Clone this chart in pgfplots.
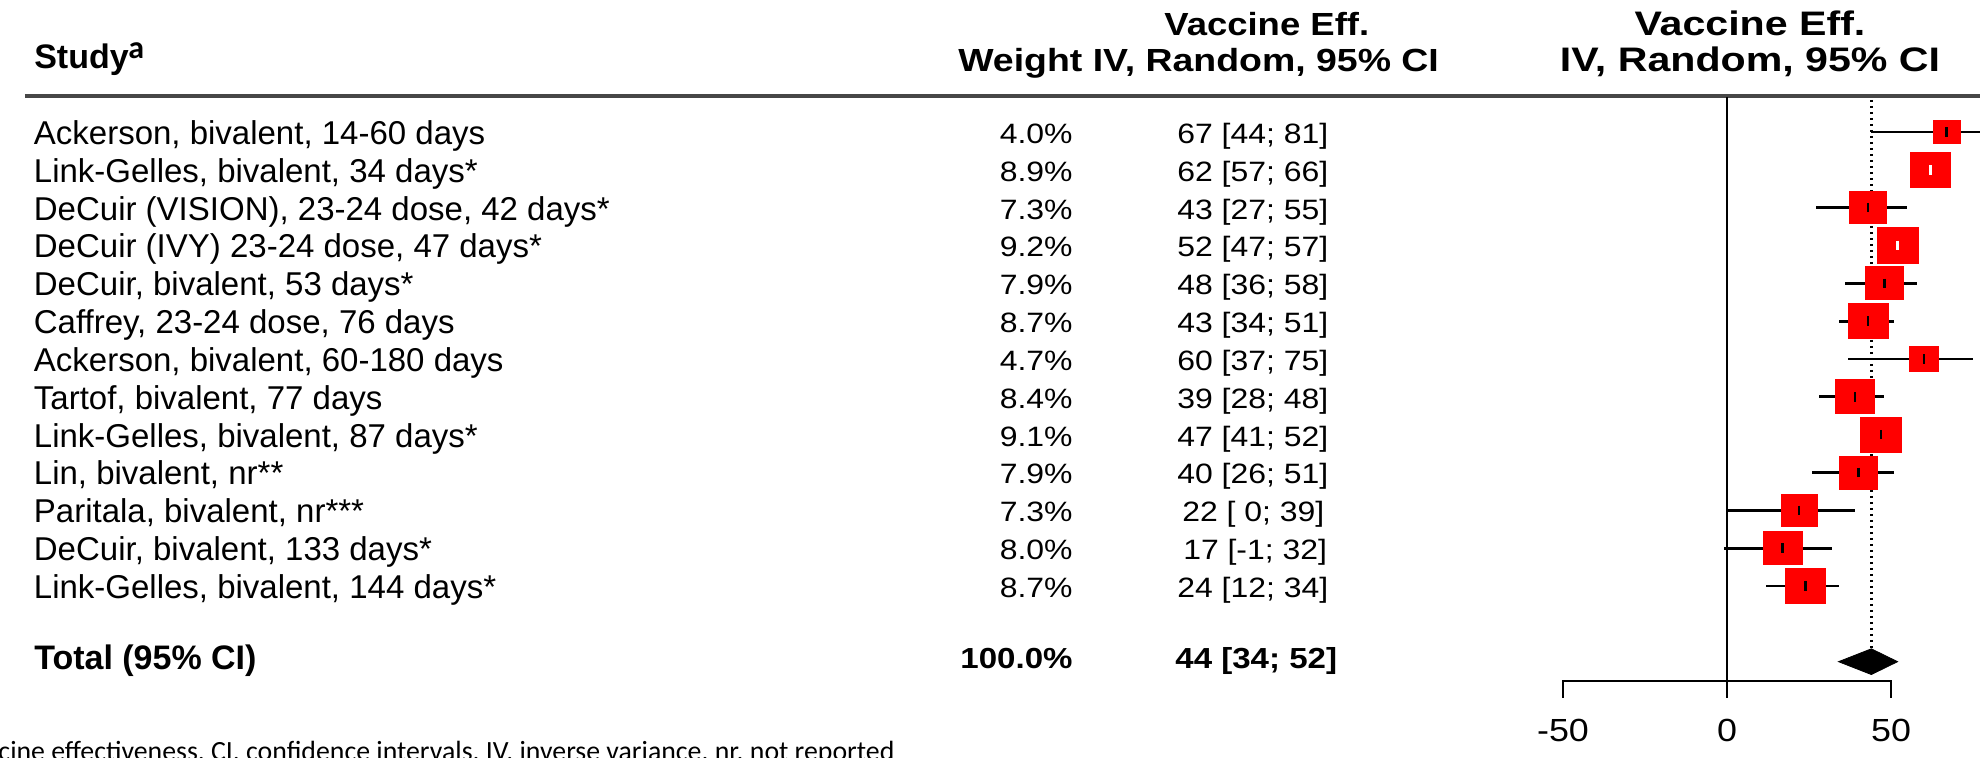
\documentclass[border=0pt]{standalone}
\usepackage{pgfplots}
\pgfplotsset{compat=1.18}
\usepackage{pgfplotstable}
\usepackage{graphicx}
\usepackage{fontspec}
\setmainfont{Liberation Sans}
\newfontfamily\calfont{Carlito}

\newcommand{\lab}{\fontsize{16.5}{19}\selectfont}
\newcommand{\nm}[1]{\scalebox{1.14}[1]{\fontsize{14}{16}\selectfont #1}}
\newcommand{\nb}[1]{\scalebox{1.14}[1]{\bfseries\fontsize{14.5}{16}\selectfont #1}}
\newcommand{\hb}[1]{\scalebox{1.14}[1]{\bfseries\fontsize{16}{18}\selectfont #1}}
\newcommand{\hbw}[1]{\scalebox{1.17}[1]{\bfseries\fontsize{16}{18}\selectfont #1}}
\newcommand{\hr}[1]{\scalebox{1.21}[1]{\bfseries\fontsize{17}{19}\selectfont #1}}
\newcommand{\nar}[1]{{\bfseries\fontsize{17}{19}\selectfont #1}}
\newcommand{\tk}[1]{\scalebox{1.12}[1]{\fontsize{16}{18}\selectfont #1}}

% row, vaccine effectiveness, lower, upper, weight (%)
\pgfplotstableread{
row ve lo hi w
1  67 44 81 4.0
2  62 57 66 8.9
3  43 27 55 7.3
4  52 47 57 9.2
5  48 36 58 7.9
6  43 34 51 8.7
7  60 37 75 4.7
8  39 28 48 8.4
9  47 41 52 9.1
10 40 26 51 7.9
11 22 0  39 7.3
12 17 -1 32 8.0
13 24 12 34 8.7
}\studies

\pgfplotstableread{
row ve lo hi
1  67 44 81
3  43 27 55
5  48 36 58
6  43 34 51
7  60 37 75
8  39 28 48
9  47 41 52
10 40 26 51
11 22 0  39
12 17 -1 32
13 24 12 34
}\ciblack

\pgfplotstableread{
row ve lo hi
2  62 57 66
4  52 47 57
}\ciwhite

\begin{document}
\begin{tikzpicture}
\begin{axis}[
  scale only axis,
  width=990pt, height=378.5pt,
  xmin=-526.52, xmax=77.13,
  ymin=-2.489, ymax=17.52,
  y dir=reverse,
  hide axis,
  clip=true,
]
% header separator
\addplot[line width=2.4pt, color=black!72] coordinates {(-518.9,0.048) (77.2,0.048)};
% zero line
\addplot[line width=1.1pt, black] coordinates {(0,0.07) (0,15.96)};
% pooled estimate dotted line
\addplot[line width=1.2pt, black, dash pattern=on 1.2pt off 1.8pt] coordinates {(44,0.15) (44,14.64)};
% x axis
\addplot[line width=1.1pt, black] coordinates {(-50,15.96) (-50,15.51) (50,15.51) (50,15.96)};

% squares
\addplot[scatter, only marks, mark=square*,
  scatter/use mapped color={draw=red, fill=red},
  visualization depends on={2.94*sqrt(\thisrow{w}) \as \msz},
  scatter/@pre marker code/.append style={/tikz/mark size=\msz pt, /tikz/xscale=1.15},
  point meta=\thisrow{w}]
  table[x=ve, y=row] {\studies};

% confidence intervals
\addplot[only marks, mark=|, mark size=2.4pt, mark options={line width=1.3pt, black},
  error bars/.cd, x dir=both, x explicit, error mark=none,
  error bar style={line width=1.4pt, black}]
  table[x=ve, y=row, x error minus expr=\thisrow{ve}-\thisrow{lo},
        x error plus expr=\thisrow{hi}-\thisrow{ve}] {\ciblack};
\addplot[only marks, mark=|, mark size=2.4pt, mark options={line width=1.3pt, white},
  error bars/.cd, x dir=both, x explicit, error mark=none,
  error bar style={line width=1.4pt, white}]
  table[x=ve, y=row, x error minus expr=\thisrow{ve}-\thisrow{lo},
        x error plus expr=\thisrow{hi}-\thisrow{ve}] {\ciwhite};

% pooled diamond
\addplot[fill=black, draw=black] coordinates {(34,15) (44,14.66) (52,15) (44,15.34)} -- cycle;

% headers
\node[anchor=base west, inner sep=0] at (axis cs:-516.2,-0.68) {\nar{Study}};
\node[anchor=base west, inner sep=0] at (axis cs:-487.5,-0.95) {\calfont\bfseries\fontsize{16}{18}\selectfont a};
\node[anchor=base, inner sep=0] at (axis cs:-140.3,-1.564) {\hb{Vaccine Eff.}};
\node[anchor=base, inner sep=0] at (axis cs:-161.1,-0.612) {\hbw{Weight IV, Random, 95\% CI}};
\node[anchor=base, inner sep=0] at (axis cs:7,-1.564) {\hr{Vaccine Eff.}};
\node[anchor=base, inner sep=0] at (axis cs:7,-0.612) {\hr{IV, Random, 95\% CI}};

% study labels
\node[anchor=base west, inner sep=0] at (axis cs:-516.3,1.33) {\lab Ackerson, bivalent, 14-60 days};
\node[anchor=base west, inner sep=0] at (axis cs:-516.3,2.33) {\lab Link-Gelles, bivalent, 34 days*};
\node[anchor=base west, inner sep=0] at (axis cs:-516.3,3.33) {\lab DeCuir (VISION), 23-24 dose, 42 days*};
\node[anchor=base west, inner sep=0] at (axis cs:-516.3,4.33) {\lab DeCuir (IVY) 23-24 dose, 47 days*};
\node[anchor=base west, inner sep=0] at (axis cs:-516.3,5.33) {\lab DeCuir, bivalent, 53 days*};
\node[anchor=base west, inner sep=0] at (axis cs:-516.3,6.33) {\lab Caffrey, 23-24 dose, 76 days};
\node[anchor=base west, inner sep=0] at (axis cs:-516.3,7.33) {\lab Ackerson, bivalent, 60-180 days};
\node[anchor=base west, inner sep=0] at (axis cs:-516.3,8.33) {\lab Tartof, bivalent, 77 days};
\node[anchor=base west, inner sep=0] at (axis cs:-516.3,9.33) {\lab Link-Gelles, bivalent, 87 days*};
\node[anchor=base west, inner sep=0] at (axis cs:-516.3,10.33) {\lab Lin, bivalent, nr**};
\node[anchor=base west, inner sep=0] at (axis cs:-516.3,11.33) {\lab Paritala, bivalent, nr***};
\node[anchor=base west, inner sep=0] at (axis cs:-516.3,12.33) {\lab DeCuir, bivalent, 133 days*};
\node[anchor=base west, inner sep=0] at (axis cs:-516.3,13.33) {\lab Link-Gelles, bivalent, 144 days*};
\node[anchor=base west, inner sep=0] at (axis cs:-516.2,15.21) {\nar{Total (95\% CI)}};

% weights
\node[anchor=base east, inner sep=0] at (axis cs:-199.4,1.30) {\nm{4.0\%}};
\node[anchor=base east, inner sep=0] at (axis cs:-199.4,2.30) {\nm{8.9\%}};
\node[anchor=base east, inner sep=0] at (axis cs:-199.4,3.30) {\nm{7.3\%}};
\node[anchor=base east, inner sep=0] at (axis cs:-199.4,4.30) {\nm{9.2\%}};
\node[anchor=base east, inner sep=0] at (axis cs:-199.4,5.30) {\nm{7.9\%}};
\node[anchor=base east, inner sep=0] at (axis cs:-199.4,6.30) {\nm{8.7\%}};
\node[anchor=base east, inner sep=0] at (axis cs:-199.4,7.30) {\nm{4.7\%}};
\node[anchor=base east, inner sep=0] at (axis cs:-199.4,8.30) {\nm{8.4\%}};
\node[anchor=base east, inner sep=0] at (axis cs:-199.4,9.30) {\nm{9.1\%}};
\node[anchor=base east, inner sep=0] at (axis cs:-199.4,10.30) {\nm{7.9\%}};
\node[anchor=base east, inner sep=0] at (axis cs:-199.4,11.30) {\nm{7.3\%}};
\node[anchor=base east, inner sep=0] at (axis cs:-199.4,12.30) {\nm{8.0\%}};
\node[anchor=base east, inner sep=0] at (axis cs:-199.4,13.30) {\nm{8.7\%}};
\node[anchor=base east, inner sep=0] at (axis cs:-199.4,15.18) {\nb{100.0\%}};

% effect estimates
\node[anchor=base west, inner sep=0] at (axis cs:-167.7,1.30) {\nm{67 [44; 81]}};
\node[anchor=base west, inner sep=0] at (axis cs:-167.7,2.30) {\nm{62 [57; 66]}};
\node[anchor=base west, inner sep=0] at (axis cs:-167.7,3.30) {\nm{43 [27; 55]}};
\node[anchor=base west, inner sep=0] at (axis cs:-167.7,4.30) {\nm{52 [47; 57]}};
\node[anchor=base west, inner sep=0] at (axis cs:-167.7,5.30) {\nm{48 [36; 58]}};
\node[anchor=base west, inner sep=0] at (axis cs:-167.7,6.30) {\nm{43 [34; 51]}};
\node[anchor=base west, inner sep=0] at (axis cs:-167.7,7.30) {\nm{60 [37; 75]}};
\node[anchor=base west, inner sep=0] at (axis cs:-167.7,8.30) {\nm{39 [28; 48]}};
\node[anchor=base west, inner sep=0] at (axis cs:-167.7,9.30) {\nm{47 [41; 52]}};
\node[anchor=base west, inner sep=0] at (axis cs:-167.7,10.30) {\nm{40 [26; 51]}};
\node[anchor=base west, inner sep=0] at (axis cs:-166.2,11.30) {\nm{22 [ 0; 39]}};
\node[anchor=base west, inner sep=0] at (axis cs:-165.9,12.30) {\nm{17 [-1; 32]}};
\node[anchor=base west, inner sep=0] at (axis cs:-167.7,13.30) {\nm{24 [12; 34]}};
\node[anchor=base west, inner sep=0] at (axis cs:-168.3,15.18) {\nb{44 [34; 52]}};

% tick labels
\node[anchor=base, inner sep=0] at (axis cs:-50,17.11) {\tk{-50}};
\node[anchor=base, inner sep=0] at (axis cs:0,17.11) {\tk{0}};
\node[anchor=base, inner sep=0] at (axis cs:50,17.11) {\tk{50}};

% footnote (cut off in the original)
\node[anchor=base west, inner sep=0] at (axis cs:-527.1,17.6) {\calfont\fontsize{13.9}{16}\selectfont cine effectiveness, CI, confidence intervals, IV, inverse variance, nr, not reported};
\end{axis}
\pgfresetboundingbox
\path[use as bounding box] (current axis.south west) rectangle (current axis.north east);
\end{tikzpicture}
\end{document}
